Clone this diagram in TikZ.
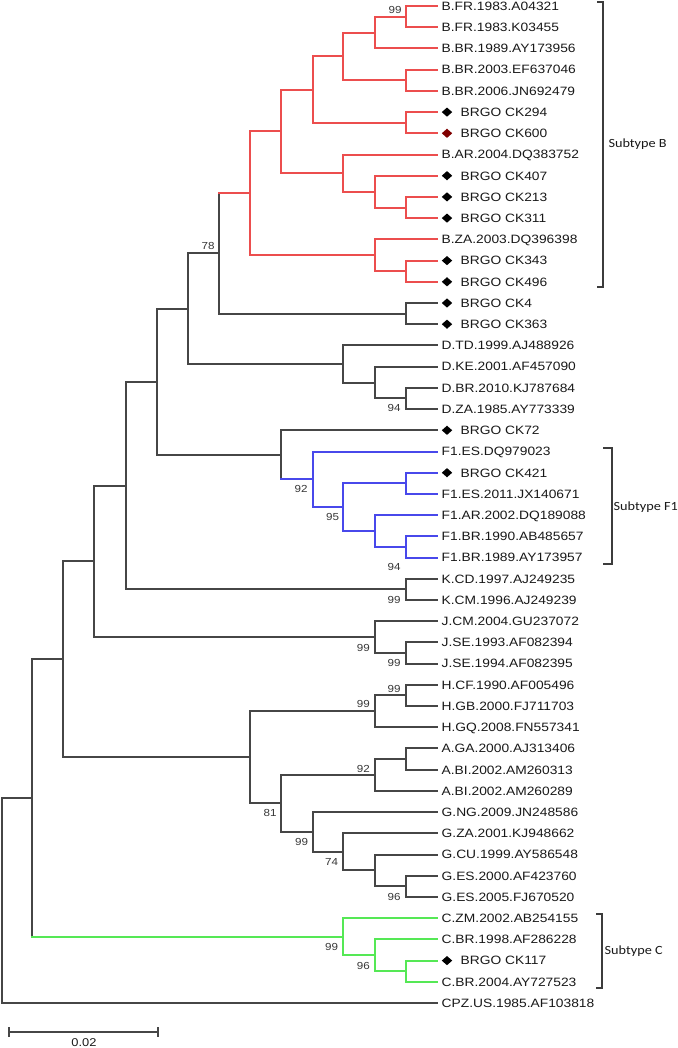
\documentclass[tikz,border=0pt]{standalone}
\usepackage{fontspec}
\setmainfont{Liberation Sans}
\newfontfamily\calfont{Carlito}
\usetikzlibrary{shapes.geometric}
\definecolor{treegray}{RGB}{70,70,70}
\definecolor{leafblack}{RGB}{25,25,25}
\definecolor{bsgray}{RGB}{55,55,55}
\definecolor{bred}{RGB}{236,78,78}
\definecolor{fblue}{RGB}{72,72,235}
\definecolor{cgreen}{RGB}{85,232,85}
\definecolor{dkred}{RGB}{128,0,0}
\definecolor{brackgray}{RGB}{60,60,60}
\newcommand\sx[1]{\scalebox{1.14}[1]{#1}}
\newcommand\C[3]{\coordinate (#1) at ({round(#2)},{round(#3)});}
\newcommand\clade[4][tl]{\draw[#1] (#3) -| (#2) |- (#4);}
\newcommand\lf[3]{\C{L#1}{437}{#2} \node[leaflab] (T#1) at (441.5,#2) {\sx{#3}};}
\newcommand\lfd[4][black]{\C{L#2}{437}{#3} \node[diamondmark, fill=#1] (D#2) at (447,#3) {}; \node[leaflab] (T#2) at (460.5,#3) {\sx{#4}};}
\newcommand\bsl[4]{\node[bs] (#1) at (#2,#3) {\sx{#4}};}
\tikzset{
  tl/.style={draw=treegray, line width=1.55bp, line cap=rect},
  bline/.style={draw=bred, line width=1.55bp, line cap=rect},
  fline/.style={draw=fblue, line width=1.55bp, line cap=rect},
  cline/.style={draw=cgreen, line width=1.55bp, line cap=rect},
  leaflab/.style={anchor=west, inner sep=0pt, font=\fontsize{12.1bp}{14bp}\selectfont, text height=8.66bp, text depth=0pt, text=leafblack},
  bs/.style={inner sep=0pt, font=\fontsize{10.2bp}{12bp}\selectfont, text height=7.3bp, text depth=0pt, text=bsgray},
  diamondmark/.style={shape=diamond, inner sep=0pt, minimum width=10.6bp, minimum height=9.3bp, draw=none},
  brack/.style={draw=brackgray, line width=1.5bp},
  sublab/.style={anchor=west, inner sep=0pt, font=\calfont\fontsize{12.5bp}{14bp}\selectfont, text=leafblack},
}
\begin{document}
\begin{tikzpicture}[x=1bp,y=-1bp]
\fill[white] (0,0) rectangle (678,1048);
\useasboundingbox (0,0) rectangle (678,1048);
% leaves
\lf{1}{6.0}{B.FR.1983.A04321}
\lf{2}{27.2}{B.FR.1983.K03455}
\lf{3}{48.4}{B.BR.1989.AY173956}
\lf{4}{69.6}{B.BR.2003.EF637046}
\lf{5}{90.9}{B.BR.2006.JN692479}
\lfd{6}{112.1}{BRGO CK294}
\lfd[dkred]{7}{133.3}{BRGO CK600}
\lf{8}{154.5}{B.AR.2004.DQ383752}
\lfd{9}{175.7}{BRGO CK407}
\lfd{10}{196.9}{BRGO CK213}
\lfd{11}{218.1}{BRGO CK311}
\lf{12}{239.3}{B.ZA.2003.DQ396398}
\lfd{13}{260.6}{BRGO CK343}
\lfd{14}{281.8}{BRGO CK496}
\lfd{15}{303.0}{BRGO CK4}
\lfd{16}{324.2}{BRGO CK363}
\lf{17}{345.4}{D.TD.1999.AJ488926}
\lf{18}{366.6}{D.KE.2001.AF457090}
\lf{19}{387.8}{D.BR.2010.KJ787684}
\lf{20}{409.0}{D.ZA.1985.AY773339}
\lfd{21}{430.3}{BRGO CK72}
\lf{22}{451.5}{F1.ES.DQ979023}
\lfd{23}{472.7}{BRGO CK421}
\lf{24}{493.9}{F1.ES.2011.JX140671}
\lf{25}{515.1}{F1.AR.2002.DQ189088}
\lf{26}{536.3}{F1.BR.1990.AB485657}
\lf{27}{557.5}{F1.BR.1989.AY173957}
\lf{28}{578.7}{K.CD.1997.AJ249235}
\lf{29}{600.0}{K.CM.1996.AJ249239}
\lf{30}{621.2}{J.CM.2004.GU237072}
\lf{31}{642.4}{J.SE.1993.AF082394}
\lf{32}{663.6}{J.SE.1994.AF082395}
\lf{33}{684.8}{H.CF.1990.AF005496}
\lf{34}{706.0}{H.GB.2000.FJ711703}
\lf{35}{727.2}{H.GQ.2008.FN557341}
\lf{36}{748.4}{A.GA.2000.AJ313406}
\lf{37}{769.7}{A.BI.2002.AM260313}
\lf{38}{790.9}{A.BI.2002.AM260289}
\lf{39}{812.1}{G.NG.2009.JN248586}
\lf{40}{833.3}{G.ZA.2001.KJ948662}
\lf{41}{854.5}{G.CU.1999.AY586548}
\lf{42}{875.7}{G.ES.2000.AF423760}
\lf{43}{896.9}{G.ES.2005.FJ670520}
\lf{44}{918.1}{C.ZM.2002.AB254155}
\lf{45}{939.4}{C.BR.1998.AF286228}
\lfd{46}{960.6}{BRGO CK117}
\lf{47}{981.8}{C.BR.2004.AY727523}
\lf{48}{1003.0}{CPZ.US.1985.AF103818}
% internal nodes
\C{n12}{405.7}{16.6}
\C{n123}{375}{32.5}
\C{n45}{405.7}{80.25}
\C{n1to5}{343.3}{56.4}
\C{n67}{405.7}{122.7}
\C{nB1}{313.3}{89.55}
\C{n1011}{405.7}{207.5}
\C{n9to11}{375}{191.6}
\C{n8to11}{343.3}{173.05}
\C{nB2}{281.3}{131.3}
\C{n1314}{405.7}{271.2}
\C{n12to14}{375}{255.25}
\C{nB}{250}{193.3}
\C{n1516}{405.7}{313.6}
\C{n78}{219.3}{253.45}
\C{n1920}{405.7}{398.4}
\C{n18to20}{375}{382.5}
\C{nD}{343.3}{363.95}
\C{nBD}{188.3}{308.7}
\C{n2324}{405.7}{483.3}
\C{n2627}{405.7}{546.9}
\C{n25to27}{375}{531}
\C{n23to27}{343.3}{507.15}
\C{nF1}{312.7}{479.3}
\C{nF}{281.3}{454.8}
\C{nBDF}{156.7}{381.75}
\C{nK}{405.7}{589.35}
\C{nBDFK}{125.7}{485.55}
\C{n3132}{405.7}{653}
\C{nJ}{375}{637.1}
\C{nJ2}{94.3}{561.3}
\C{n3334}{405.7}{695.4}
\C{nH}{375}{711.3}
\C{n3637}{405.7}{759.05}
\C{nA}{375}{774.98}
\C{n4243}{405.7}{886.3}
\C{n41to43}{375}{870.4}
\C{n40to43}{343.3}{851.85}
\C{nG}{312.7}{831.98}
\C{nAG}{281.3}{803.48}
\C{nHAG}{250}{757.39}
\C{nX}{62.7}{659.35}
\C{n4647}{405.7}{971.2}
\C{n45to47}{375}{955.3}
\C{nC}{343.3}{936.7}
\C{nXC}{32.3}{798.0}
\C{root}{2}{900.5}
% subtype B (red)
\clade[bline]{n12}{L1}{L2}
\clade[bline]{n123}{n12}{L3}
\clade[bline]{n45}{L4}{L5}
\clade[bline]{n1to5}{n123}{n45}
\clade[bline]{n67}{L6}{L7}
\clade[bline]{nB1}{n1to5}{n67}
\clade[bline]{n1011}{L10}{L11}
\clade[bline]{n9to11}{L9}{n1011}
\clade[bline]{n8to11}{L8}{n9to11}
\clade[bline]{nB2}{nB1}{n8to11}
\clade[bline]{n1314}{L13}{L14}
\clade[bline]{n12to14}{L12}{n1314}
\clade[bline]{nB}{nB2}{n12to14}
\draw[tl] (n78 |- nB) -- (n78 |- n1516) -- (n1516);
\draw[bline] (n78 |- nB) -- (nB);
\clade{n1516}{L15}{L16}
% D
\clade{n1920}{L19}{L20}
\clade{n18to20}{L18}{n1920}
\clade{nD}{L17}{n18to20}
\clade{nBD}{n78}{nD}
% F1 (blue)
\clade[fline]{n2324}{L23}{L24}
\clade[fline]{n2627}{L26}{L27}
\clade[fline]{n25to27}{L25}{n2627}
\clade[fline]{n23to27}{n2324}{n25to27}
\clade[fline]{nF1}{L22}{n23to27}
\draw[tl] (L21) -| (nF |- nF1);
\draw[fline] (nF |- nF1) -- (nF1);
\clade{nBDF}{nBD}{nF}
% K, J
\clade{nK}{L28}{L29}
\clade{nBDFK}{nBDF}{nK}
\clade{n3132}{L31}{L32}
\clade{nJ}{L30}{n3132}
\clade{nJ2}{nBDFK}{nJ}
% H, A, G
\clade{n3334}{L33}{L34}
\clade{nH}{n3334}{L35}
\clade{n3637}{L36}{L37}
\clade{nA}{n3637}{L38}
\clade{n4243}{L42}{L43}
\clade{n41to43}{L41}{n4243}
\clade{n40to43}{L40}{n41to43}
\clade{nG}{L39}{n40to43}
\clade{nAG}{nA}{nG}
\clade{nHAG}{nH}{nAG}
\clade{nX}{nJ2}{nHAG}
% C (green)
\clade[cline]{n4647}{L46}{L47}
\clade[cline]{n45to47}{L45}{n4647}
\clade[cline]{nC}{L44}{n45to47}
\draw[tl] (nX) -| (nXC |- nC);
\draw[cline] (nXC |- nC) -- (nC);
\clade{root}{nXC}{L48}
% bootstrap values
\bsl{b1}{395}{9.5}{99}
\bsl{b2}{208}{246}{78}
\bsl{b3}{394}{407.7}{94}
\bsl{b4}{301}{489}{92}
\bsl{b5}{332.5}{516.7}{95}
\bsl{b6}{394}{566.7}{94}
\bsl{b7}{394}{600}{99}
\bsl{b8}{363.3}{647.7}{99}
\bsl{b9}{394}{662.7}{99}
\bsl{b10}{394}{689.3}{99}
\bsl{b11}{363.3}{704.3}{99}
\bsl{b12}{363.3}{769.3}{92}
\bsl{b13}{270}{813.3}{81}
\bsl{b14}{301.7}{842.3}{99}
\bsl{b15}{331.7}{862.3}{74}
\bsl{b16}{394}{897.3}{96}
\bsl{b17}{331.7}{946.7}{99}
\bsl{b18}{363.3}{965.7}{96}
% brackets
\draw[brack] (597,2) -- (603,2) -- (603,287) -- (597,287);
\node[sublab] (sB) at (608.3,144) {\sx{Subtype B}};
\draw[brack] (603,448) -- (612,448) -- (612,564) -- (603,564);
\node[sublab] (sF) at (613.5,507.3) {\sx{Subtype F1}};
\draw[brack] (596,914) -- (602,914) -- (602,988) -- (596,988);
\node[sublab] (sC) at (604.5,950.7) {\sx{Subtype C}};
% scale bar
\coordinate (sb1) at (9,1032);
\coordinate (sb2) at (158,1032);
\draw[tl, line width=1.5bp] (sb1) -- (sb2);
\draw[tl, line width=1.5bp] ([yshift=-4bp]sb1) -- ([yshift=4bp]sb1);
\draw[tl, line width=1.5bp] ([yshift=-4bp]sb2) -- ([yshift=4bp]sb2);
\node[bs, text=leafblack, font=\fontsize{11.3bp}{13bp}\selectfont, text height=8bp] (sbl) at (84,1042.7) {\sx{0.02}};
\end{tikzpicture}
\end{document}
